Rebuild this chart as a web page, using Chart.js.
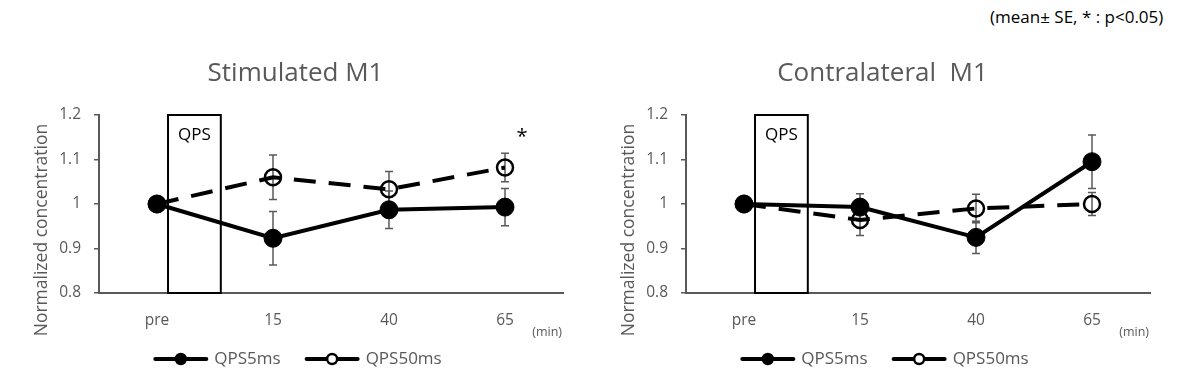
<!DOCTYPE html>
<html>
<head>
<meta charset="utf-8">
<script src="https://cdn.jsdelivr.net/npm/chart.js@4.4.0/dist/chart.umd.min.js"></script>
<style>
body { margin: 0; background: #fff; width: 1183px; height: 390px; position: relative; overflow: hidden; font-family: "Open Sans", sans-serif; }
.panel { position: absolute; top: 0; width: 591px; height: 390px; }
#note { position: absolute; top: 5px; left: 990px; font-size: 17px; color: #000; white-space: nowrap; }
</style>
</head>
<body>
<div id="note">(mean± SE, * : p&lt;0.05)</div>
<div class="panel" style="left:0"><canvas id="stimChart" width="591" height="390"></canvas></div>
<div class="panel" style="left:587px"><canvas id="contraChart" width="591" height="390"></canvas></div>
<script>
// categories and axis
var timeLabels = ['pre', '15', '40', '65'];
var yMin = 0.8, yMax = 1.2, yStep = 0.1;
var seriesNames = ['QPS5ms', 'QPS50ms'];

// Stimulated M1
var stimQps5 = [1.0, 0.923, 0.987, 0.993];
var stimQps5Se = [0, 0.06, 0.042, 0.042];
var stimQps50 = [1.0, 1.06, 1.033, 1.082];
var stimQps50Se = [0, 0.05, 0.04, 0.032];
var stimSig = [false, false, false, true];

// Contralateral M1
var contraQps5 = [1.0, 0.993, 0.925, 1.095];
var contraQps5Se = [0, 0.03, 0.036, 0.06];
var contraQps50 = [1.0, 0.964, 0.99, 1.0];
var contraQps50Se = [0, 0.035, 0.032, 0.026];
var contraSig = [false, false, false, false];

// QPS stimulation period, in category units after 'pre'
var qpsPeriod = [0.095, 0.55];

var FONT = '"Open Sans", sans-serif';
var GREY = '#595959';

var figurePlugin = {
    id: 'figure',
    beforeDatasetsDraw: function(chart) {
        var ctx = chart.ctx, xs = chart.scales.x, ys = chart.scales.y;
        var step = xs.getPixelForValue(1) - xs.getPixelForValue(0);
        var x0 = xs.getPixelForValue(0) + qpsPeriod[0] * step;
        var x1 = xs.getPixelForValue(0) + qpsPeriod[1] * step;
        var yt = ys.getPixelForValue(yMax), yb = ys.getPixelForValue(yMin);
        ctx.save();
        ctx.strokeStyle = '#000';
        ctx.lineWidth = 2;
        ctx.strokeRect(x0, yt, x1 - x0, yb - yt);
        ctx.fillStyle = '#000';
        ctx.font = '17px ' + FONT;
        ctx.textAlign = 'center';
        ctx.textBaseline = 'middle';
        ctx.fillText('QPS', (x0 + x1) / 2, yt + 20);

        // error bars (mean ± SE)
        ctx.strokeStyle = GREY;
        ctx.lineWidth = 1.5;
        chart.data.datasets.forEach(function(ds) {
            ds.data.forEach(function(v, i) {
                var e = ds.errors[i];
                if (!e) return;
                var px = xs.getPixelForValue(i);
                var top = ys.getPixelForValue(v + e), bot = ys.getPixelForValue(v - e);
                ctx.beginPath();
                ctx.moveTo(px, top); ctx.lineTo(px, bot);
                ctx.moveTo(px - 4, top); ctx.lineTo(px + 4, top);
                ctx.moveTo(px - 4, bot); ctx.lineTo(px + 4, bot);
                ctx.stroke();
            });
        });
        ctx.restore();
    },
    afterDraw: function(chart, args, opts) {
        var ctx = chart.ctx, xs = chart.scales.x, ys = chart.scales.y, area = chart.chartArea;
        ctx.save();
        ctx.textBaseline = 'middle';

        // chart title, centred on the panel
        ctx.fillStyle = GREY;
        ctx.font = '26px ' + FONT;
        ctx.textAlign = 'center';
        ctx.fillText(opts.title, chart.width / 2, 74);

        // y axis title
        ctx.font = '17.5px ' + FONT;
        ctx.translate(42, 230);
        ctx.rotate(-Math.PI / 2);
        ctx.fillText('Normalized concentration', 0, 0);
        ctx.setTransform(1, 0, 0, 1, 0, 0);

        // unit
        ctx.font = '12.5px ' + FONT;
        ctx.textAlign = 'right';
        ctx.fillText('(min)', area.right - 1, area.bottom + 39);

        // significance marks
        ctx.fillStyle = '#000';
        ctx.font = '20px ' + FONT;
        ctx.textAlign = 'center';
        chart.data.datasets.forEach(function(ds) {
            if (!ds.sig) return;
            ds.sig.forEach(function(s, i) {
                if (!s) return;
                ctx.fillText('*', xs.getPixelForValue(i) + 17, ys.getPixelForValue(ds.data[i] + ds.errors[i]) - 16);
            });
        });

        // legend
        ctx.font = '17px ' + FONT;
        ctx.textAlign = 'left';
        var lineLen = 55, gap = 6, itemGap = 24;
        var total = 0;
        chart.data.datasets.forEach(function(ds, i) {
            total += lineLen + gap + ctx.measureText(ds.label).width + (i ? 0 : itemGap);
        });
        var lx = chart.width / 2 - total / 2 + 2, ly = 359;
        chart.data.datasets.forEach(function(ds) {
            ctx.strokeStyle = '#000';
            ctx.lineWidth = 4;
            ctx.lineCap = 'round';
            ctx.beginPath();
            ctx.moveTo(lx + 2, ly); ctx.lineTo(lx + lineLen - 2, ly);
            ctx.stroke();
            ctx.beginPath();
            ctx.arc(lx + lineLen / 2, ly, 5, 0, Math.PI * 2);
            ctx.fillStyle = ds.pointBackgroundColor === '#000' ? '#000' : '#fff';
            ctx.fill();
            ctx.lineWidth = 2.5;
            ctx.stroke();
            ctx.fillStyle = GREY;
            ctx.fillText(ds.label, lx + lineLen + gap, ly);
            lx += lineLen + gap + ctx.measureText(ds.label).width + itemGap;
        });
        ctx.restore();
    }
};

function makeChart(id, title, s5, s5se, s50, s50se, sig) {
    return new Chart(document.getElementById(id), {
        type: 'line',
        data: {
            labels: timeLabels,
            datasets: [{
                label: seriesNames[0],
                data: s5,
                errors: s5se,
                borderColor: '#000',
                borderWidth: 4,
                tension: 0,
                pointRadius: 9,
                pointBackgroundColor: '#000',
                pointBorderColor: '#000',
                pointBorderWidth: 1
            }, {
                label: seriesNames[1],
                data: s50,
                errors: s50se,
                sig: sig,
                borderColor: '#000',
                borderWidth: 4,
                borderDash: [22, 13],
                tension: 0,
                pointRadius: 8,
                pointBackgroundColor: 'rgba(0,0,0,0)',
                pointBorderColor: '#000',
                pointBorderWidth: 2.5
            }]
        },
        options: {
            responsive: false,
            animation: false,
            devicePixelRatio: 1,
            layout: { padding: { left: 0, right: 28, top: 115, bottom: 0 } },
            plugins: {
                legend: { display: false },
                tooltip: { enabled: false },
                title: { display: false },
                figure: { title: title }
            },
            scales: {
                x: {
                    offset: true,
                    grid: { display: false, drawTicks: false },
                    border: { display: true, color: GREY, width: 2 },
                    ticks: { color: GREY, font: { family: FONT, size: 15.5 }, padding: 18 },
                    afterFit: function(scale) { scale.height = 97; }
                },
                y: {
                    min: yMin,
                    max: yMax,
                    grid: { drawOnChartArea: false, drawTicks: true, tickLength: 5, color: GREY, lineWidth: 1.5 },
                    border: { display: true, color: GREY, width: 2 },
                    ticks: {
                        stepSize: yStep,
                        color: GREY,
                        font: { family: FONT, size: 15.5 },
                        padding: 13,
                        callback: function(v) { return String(Math.round(v * 10) / 10); }
                    },
                    afterFit: function(scale) { scale.width = 99; }
                }
            }
        },
        plugins: [figurePlugin]
    });
}

makeChart('stimChart', 'Stimulated M1', stimQps5, stimQps5Se, stimQps50, stimQps50Se, stimSig);
makeChart('contraChart', 'Contralateral  M1', contraQps5, contraQps5Se, contraQps50, contraQps50Se, contraSig);
</script>
</body>
</html>
